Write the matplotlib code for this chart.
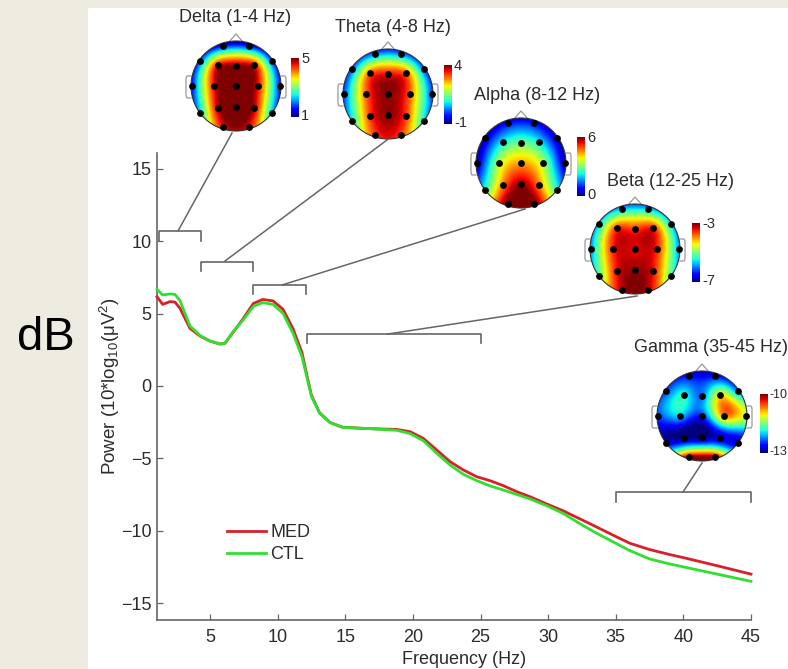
import numpy as np
import matplotlib
matplotlib.use("Agg")
import matplotlib.pyplot as plt
from matplotlib.patches import Circle, Rectangle

plt.rcParams['font.family'] = ['Liberation Sans', 'DejaVu Sans']
plt.rcParams['mathtext.default'] = 'regular'

# spectrum
freq = [1.08, 1.5, 2.04, 2.41, 2.78, 3.15, 3.52, 4.26, 5, 5.74, 6.1, 6.7, 7.45, 8.2, 8.9, 9.66, 10.4, 11.14,
        11.8, 12.15, 12.5, 13.1, 13.87, 14.8, 16.83, 18.8, 19.8, 20.77, 21.76, 22.75, 23.73, 24.72, 25.7,
        26.69, 27.67, 28.66, 29.89, 31.1, 32.5, 33.6, 35, 36.05, 37.5, 39, 40, 42.5, 45]
power_med = [6.17, 5.64, 5.83, 5.8, 5.37, 4.67, 3.98, 3.45, 3.1, 2.9, 2.95, 3.7, 4.65, 5.7, 5.98, 5.88, 5.3, 3.95,
             2.3, .8, -.65, -1.85, -2.52, -2.85, -2.95, -3, -3.16, -3.62, -4.42, -5.23, -5.8, -6.27, -6.54,
             -6.89, -7.3, -7.65, -8.15, -8.62, -9.25, -9.75, -10.4, -10.87, -11.3, -11.65, -11.86, -12.42, -13]
power_ctl = [6.68, 6.29, 6.36, 6.33, 5.9, 5.02, 4.14, 3.49, 3.11, 2.9, 2.95, 3.75, 4.56, 5.5, 5.76, 5.64, 5.02, 3.64,
             2.03, .65, -.73, -1.88, -2.53, -2.86, -2.95, -3.06, -3.29, -3.78, -4.65, -5.46, -6.1, -6.54, -6.9,
             -7.19, -7.49, -7.81, -8.27, -8.8, -9.6, -10.18, -10.87, -11.38, -11.95, -12.3, -12.5, -13, -13.5]

xticks = [5, 10, 15, 20, 25, 30, 35, 40, 45]
yticks = [-15, -10, -5, 0, 5, 10, 15]

# frequency bands: name, low, high, bracket height
band_names = ['Delta (1-4 Hz)', 'Theta (4-8 Hz)', 'Alpha (8-12 Hz)', 'Beta (12-25 Hz)', 'Gamma (35-45 Hz)']
band_low = [1.2, 4.3, 8.2, 12.2, 35]
band_high = [4.3, 8.2, 12.1, 25, 45]
band_level = [10.7, 8.6, 7.0, 3.6, -7.35]

# electrode positions on the unit head
elec_x = [-.29, .29, -.79, .79, -.41, 0, .41, -.98, -.49, 0, .49, .98, -.41, 0, .41, -.79, .79, -.29, .29]
elec_y = [.89, .89, .55, .55, .46, .44, .46, 0, 0, 0, 0, 0, -.49, -.47, -.49, -.59, -.59, -.92, -.92]

# value at each electrode, in the units of each colorbar
delta_vals = [1.6, 1.6, 1.9, 1.9, 4.6, 5, 4.6, 1.6, 4.6, 5.3, 4.6, 1.6, 4.8, 5.4, 4.8, 2.4, 2.4, 4.6, 4.6]
theta_vals = [.3, .3, .2, .2, 3, 3.5, 3, 0, 3, 3.9, 3, 0, 3.2, 3.9, 3.2, .9, .9, 3.2, 3.2]
alpha_vals = [.8, .8, .4, .4, 2.2, 2.9, 2.2, .3, 3.4, 4.4, 3.4, .3, 4.6, 5.8, 4.6, 2.5, 2.5, 6.2, 6.2]
beta_vals = [-5.7, -5.7, -5.6, -5.6, -3.6, -3.6, -3.5, -5.9, -3.5, -3.4, -3.5, -5.9, -3.4, -3.1, -3.4, -5.1, -5.1,
             -3.2, -3.2]
gamma_vals = [-12.6, -12.6, -12.4, -12.2, -11.8, -12.3, -11, -12.4, -12, -12.5, -10.7, -11.2, -13, -13.1, -12.8,
              -12.8, -12.8, -10, -10]
map_vals = [delta_vals, theta_vals, alpha_vals, beta_vals, gamma_vals]
cbar_high = [5, 4, 6, -3, -10]
cbar_low = [1, -1, 0, -7, -13]

# where things sit, in pixels of the 788x669 picture
head_cx = [236, 388, 521, 635, 702]
head_cy = [86, 94, 163, 249, 416]
head_r = 45
cbar_x = [291, 444, 577, 692, 760]
cbar_top = [58, 65, 137, 223, 394]
title_x = [235, 393, 537, 671, 634]
title_y = [18, 27, 96, 181, 348]
conn_from = [(178, 231), (225, 261), (282, 285), (388, 334), (683, 492)]
conn_to = [(232, 133), (387, 140), (525, 209), (637, 296), (702, 463)]

W, H = 788, 669
GREY = '#666666'
TEXT = '#2b2b2b'


def head_image(vals, n=180):
    # thin plate spline through the electrode values
    px, py = np.array(elec_x), np.array(elec_y)
    d = np.hypot(px[:, None] - px[None, :], py[:, None] - py[None, :])
    k = d ** 2 * np.log(d + 1e-9)
    p = np.c_[np.ones(len(px)), px, py]
    a = np.block([[k + 1e-3 * np.eye(len(px)), p], [p.T, np.zeros((3, 3))]])
    w = np.linalg.solve(a, np.r_[vals, np.zeros(3)])
    gx, gy = np.meshgrid(np.linspace(-1, 1, n), np.linspace(1, -1, n))
    dg = np.hypot(gx[..., None] - px, gy[..., None] - py)
    z = (dg ** 2 * np.log(dg + 1e-9) * w[:-3]).sum(axis=-1)
    return z + w[-3] + w[-2] * gx + w[-1] * gy


fig = plt.figure(figsize=(W / 100, H / 100), dpi=100, facecolor='#eeebe0')

# white panel and everything placed by pixel
bg = fig.add_axes([0, 0, 1, 1], zorder=0)
bg.set_xlim(0, W)
bg.set_ylim(H, 0)
bg.axis('off')
bg.add_patch(Rectangle((88, 8), W - 88, H - 8, facecolor='white', edgecolor='none'))
bg.text(46, 338, 'dB', fontsize=34, color='black', ha='center', va='center')

# main axes
left, right, top, bottom = 157, 751, 153, 620
ax = fig.add_axes([left / W, 1 - bottom / H, (right - left) / W, (bottom - top) / H], zorder=1)
ax.patch.set_alpha(0)
ax.set_xlim(1.08, 45)
ax.set_ylim(-16.17, 16.1)
ax.plot(freq, power_med, color='#d8202a', lw=2.0, label='MED', clip_on=False, zorder=3)
ax.plot(freq, power_ctl, color='#2fe02f', lw=2.0, label='CTL', clip_on=False, zorder=4)
ax.spines['top'].set_visible(False)
ax.spines['right'].set_visible(False)
for s in ['left', 'bottom']:
    ax.spines[s].set_color(GREY)
    ax.spines[s].set_linewidth(1.2)
ax.set_xticks(xticks)
ax.set_yticks(yticks)
ax.tick_params(direction='in', length=4.5, width=0.9, color=GREY, labelsize=13, labelcolor=TEXT)
ax.tick_params(axis='x', pad=6.5)
ax.tick_params(axis='y', pad=4)
ax.set_xlabel('Frequency (Hz)', fontsize=13, color=TEXT, labelpad=3.5, x=0.517)
ax.set_ylabel(r'Power (10*log$_{10}$(μV$^2$)', fontsize=13.5, color=TEXT, labelpad=-1)
ax.legend(loc='lower left', bbox_to_anchor=(0.118, 0.122), frameon=False, fontsize=13, labelcolor=TEXT,
          handlelength=2.16, handletextpad=0.22, labelspacing=0.28, borderpad=0, borderaxespad=0)

# band brackets
for lo, hi, lev in zip(band_low, band_high, band_level):
    ax.plot([lo, lo, hi, hi], [lev - 0.65, lev, lev, lev - 0.65], color=GREY, lw=1.2, clip_on=False)

# overlay for the scalp maps
ov = fig.add_axes([0, 0, 1, 1], zorder=2)
ov.patch.set_alpha(0)
ov.axis('off')
for i in range(5):
    cx, cy = head_cx[i], head_cy[i]
    ov.plot([conn_from[i][0], conn_to[i][0]], [conn_from[i][1], conn_to[i][1]], color=GREY, lw=1.1)
    # nose and ears
    ov.plot([cx - 7, cx, cx + 7], [cy - 44, cy - 52, cy - 44], color='#999999', lw=0.9)
    for sign in (-1, 1):
        ov.plot([cx + sign * 45, cx + sign * 49, cx + sign * 50, cx + sign * 50, cx + sign * 49, cx + sign * 45],
                [cy - 10, cy - 10, cy - 8, cy + 10, cy + 12, cy + 12], color='#999999', lw=0.9)
    im = ov.imshow(head_image(map_vals[i]), cmap='jet', vmin=cbar_low[i], vmax=cbar_high[i], aspect='auto',
                   extent=(cx - head_r, cx + head_r, cy + head_r, cy - head_r), interpolation='bilinear', zorder=2)
    clip = Circle((cx, cy), head_r, transform=ov.transData)
    im.set_clip_path(clip)
    ov.add_patch(Circle((cx, cy), head_r, fill=False, edgecolor='#333333', lw=0.8, zorder=3))
    ov.scatter(cx + np.array(elec_x) * head_r, cy - np.array(elec_y) * head_r, s=24, color='black',
               linewidths=0, zorder=4)
    # colorbar
    grad = np.linspace(1, 0, 64)[:, None]
    ov.imshow(grad, cmap='jet', aspect='auto', extent=(cbar_x[i], cbar_x[i] + 8, cbar_top[i] + 59, cbar_top[i]),
              zorder=2)
    # the last bar sits against the right edge, its labels get a bit smaller
    lab_size = 9 if i == 4 else 10.5
    ov.text(cbar_x[i] + 10, cbar_top[i] + 1, str(cbar_high[i]), fontsize=lab_size, color=TEXT, va='center')
    ov.text(cbar_x[i] + 10, cbar_top[i] + 58, str(cbar_low[i]), fontsize=lab_size, color=TEXT, va='center')
    ha = 'left' if i == 4 else 'center'
    ov.text(title_x[i], title_y[i], band_names[i], fontsize=13, color=TEXT, ha=ha, va='center')
ov.set_xlim(0, W)
ov.set_ylim(H, 0)

fig.savefig('out.png', dpi=100, facecolor=fig.get_facecolor())
